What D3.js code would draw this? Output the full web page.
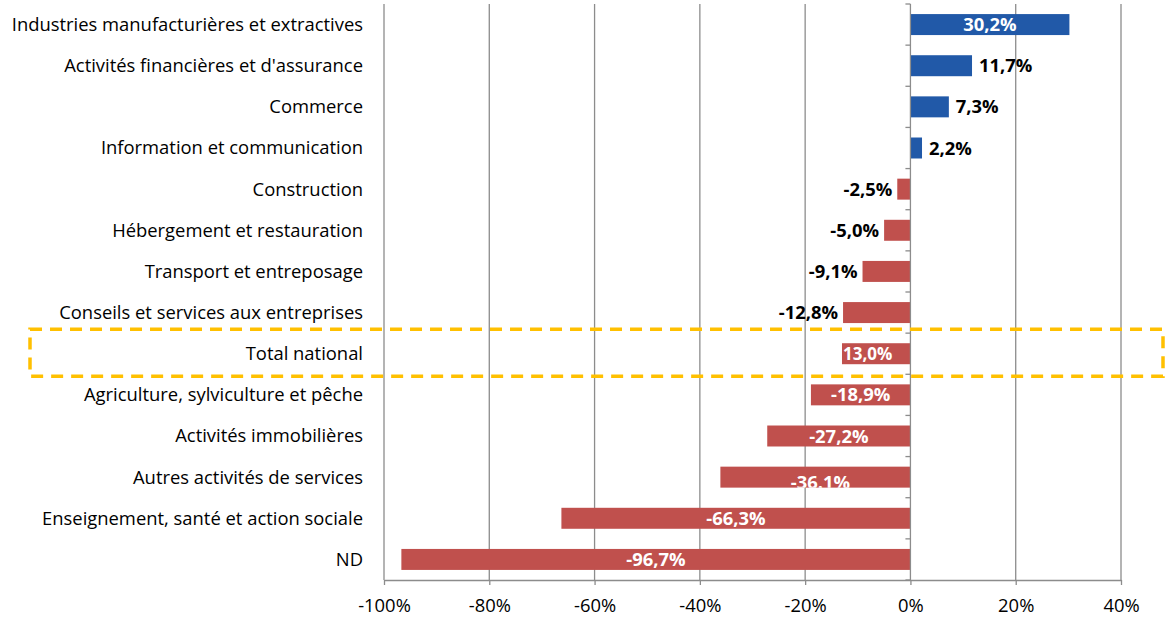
<!DOCTYPE html>
<html><head><meta charset="utf-8">
<script src="https://cdn.jsdelivr.net/npm/d3@7"></script>
<style>body{margin:0;background:#fff}svg{display:block}text{font-family:"Open Sans",Lato,sans-serif}</style>
</head><body><svg id="c" width="1166" height="618"></svg>
<script>
// Sectors, their change (%) and the printed data labels
const categories = ["Industries manufacturières et extractives","Activités financières et d'assurance","Commerce","Information et communication","Construction","Hébergement et restauration","Transport et entreposage","Conseils et services aux entreprises","Total national","Agriculture, sylviculture et pêche","Activités immobilières","Autres activités de services","Enseignement, santé et action sociale","ND"];
const values = [30.2, 11.7, 7.3, 2.2, -2.5, -5.0, -9.1, -12.8, -13.0, -18.9, -27.2, -36.1, -66.3, -96.7];
const valueLabels = ["30,2%","11,7%","7,3%","2,2%","-2,5%","-5,0%","-9,1%","-12,8%","13,0%","-18,9%","-27,2%","-36.1%","-66,3%","-96,7%"];
const xTicks = [-100, -80, -60, -40, -20, 0, 20, 40];
const highlighted = "Total national";
const loweredLabel = "Autres activités de services";

const svg = d3.select("#c");
const x = d3.scaleLinear().domain([-100, 40]).range([384, 1121]);
const y = d3.scaleBand().domain(categories).range([4, 580]).paddingInner(0.49).paddingOuter(0.245);
const step = y.step();
const grid = "#8c8c8c";
const FS = 18.4;

// vertical gridlines
svg.append("g").selectAll("line").data(xTicks.filter(t => t !== 0)).join("line")
  .attr("x1", d => x(d)).attr("x2", d => x(d)).attr("y1", 4).attr("y2", 580)
  .attr("stroke", grid).attr("stroke-width", 1.3);

const data = categories.map((c, i) => ({c, v: values[i], label: valueLabels[i], i}));

// clip regions matching each bar, so inside labels stay within their bar
const defs = svg.append("defs");
defs.selectAll("clipPath").data(data).join("clipPath").attr("id", d => "bar" + d.i)
  .append("rect")
  .attr("x", d => x(Math.min(0, d.v))).attr("width", d => Math.abs(x(d.v) - x(0)))
  .attr("y", d => y(d.c)).attr("height", y.bandwidth());

// one group per row: bar then its label
const rows = svg.append("g").selectAll("g").data(data).join("g");
rows.append("rect")
  .attr("x", d => x(Math.min(0, d.v))).attr("width", d => Math.abs(x(d.v) - x(0)))
  .attr("y", d => y(d.c)).attr("height", y.bandwidth())
  .attr("fill", d => d.v >= 0 ? "#2159A8" : "#C0504D");

rows.append("text").each(function(d) {
  const t = d3.select(this);
  const cy = y(d.c) + y.bandwidth() / 2;
  const w = Math.abs(x(d.v) - x(0));
  t.attr("y", cy).attr("dy", "0.36em").attr("font-size", FS).attr("font-weight", "bold").text(d.label);
  if (d.c === highlighted) {
    t.attr("x", x(d.v) + 1).attr("text-anchor", "start").attr("fill", "#fff").attr("font-size", 17);
  } else if (w > 80) {
    t.attr("x", (x(d.v) + x(0)) / 2).attr("text-anchor", "middle").attr("fill", "#fff");
    if (d.c === loweredLabel) t.attr("x", (x(d.v) + x(0)) / 2 + 5).attr("y", cy + 5).attr("clip-path", `url(#bar${d.i})`);
  } else if (d.v >= 0) {
    t.attr("x", x(d.v) + 7).attr("text-anchor", "start").attr("fill", "#000");
  } else {
    t.attr("x", x(d.v) - 5).attr("text-anchor", "end").attr("fill", "#000");
  }
});

// x axis
const xAxis = d3.axisBottom(x).tickValues(xTicks).tickSize(5).tickSizeOuter(0).tickFormat(d => d + "%");
const gx = svg.append("g").attr("transform", "translate(0,580)").call(xAxis);
gx.select(".domain").attr("stroke", grid).attr("stroke-width", 1.3);
gx.selectAll(".tick line").attr("stroke", grid).attr("stroke-width", 1.3);
gx.selectAll(".tick text").attr("font-size", FS).attr("fill", "#000").attr("font-family", "'Open Sans'").attr("dy", "1.3em");

// y axis at zero with ticks at category boundaries
svg.append("line").attr("x1", x(0)).attr("x2", x(0)).attr("y1", 4).attr("y2", 580).attr("stroke", grid).attr("stroke-width", 1.3);
svg.append("g").selectAll("line").data(d3.range(categories.length + 1)).join("line")
  .attr("x1", x(0) - 5).attr("x2", x(0)).attr("y1", i => 4 + i * step).attr("y2", i => 4 + i * step)
  .attr("stroke", grid).attr("stroke-width", 1.3);

// category labels
svg.append("g").selectAll("text").data(categories).join("text")
  .attr("x", 363).attr("y", d => y(d) + y.bandwidth() / 2).attr("dy", "0.35em")
  .attr("text-anchor", "end").attr("font-size", FS).attr("fill", "#000").text(d => d);

// highlight frame around the national total
const yh = y(highlighted) - (step - y.bandwidth()) / 2;
svg.append("rect").attr("x", 30).attr("y", yh - 4).attr("width", 1133).attr("height", step + 6)
  .attr("fill", "none").attr("stroke", "#FFC000").attr("stroke-width", 3.5).attr("stroke-dasharray", "12,8");
</script></body></html>
